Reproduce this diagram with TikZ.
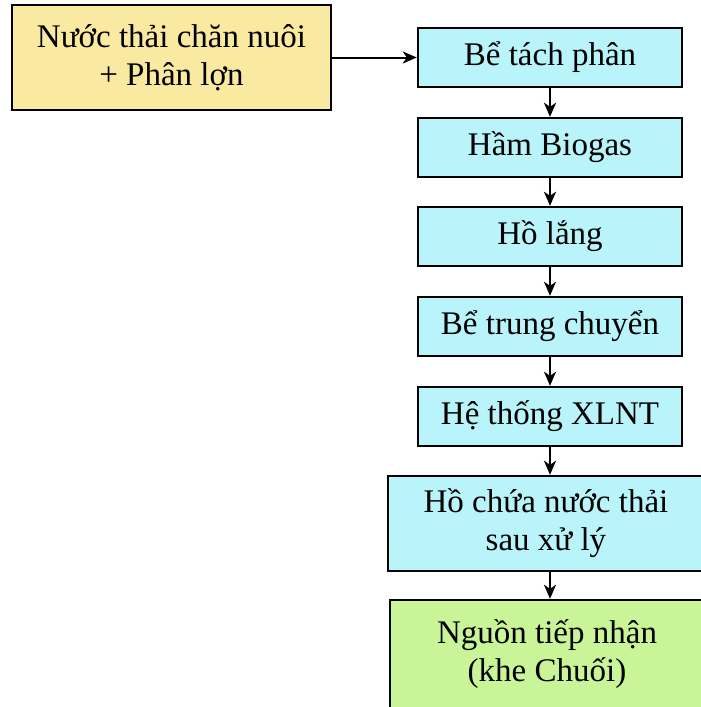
\documentclass[tikz,border=0pt]{standalone}
\usepackage{fontspec}
\setmainfont{Liberation Serif}
\usetikzlibrary{arrows.meta}
\definecolor{srcyellow}{RGB}{250,233,160}
\definecolor{stepcyan}{RGB}{184,244,250}
\definecolor{sinkgreen}{RGB}{201,245,152}
\tikzset{
  box/.style={draw=black, line width=2.4pt, align=center, inner sep=0pt,
    font=\fontsize{33}{38}\selectfont},
  stagebox/.style={box, fill=stepcyan, minimum width=264pt, minimum height=59pt},
  flow/.style={line width=2pt, -{Stealth[length=14pt,width=12pt,inset=4pt]}}
}
\begin{document}
\begin{tikzpicture}[x=1pt,y=-1pt]
\useasboundingbox (0,0) rectangle (701,707);
% source
\node[box, fill=srcyellow, minimum width=319pt, minimum height=105pt]
  (src) at (171.5,57.5) {Nước thải chăn nuôi\\+ Phân lợn};
% treatment chain
\node[stagebox] (s1) at (550,57.5) {Bể tách phân};
\node[stagebox] (s2) at (550,147.5) {Hầm Biogas};
\node[stagebox] (s3) at (550,236.5) {Hồ lắng};
\node[stagebox] (s4) at (550,326.5) {Bể trung chuyển};
\node[stagebox] (s5) at (550,416.5) {Hệ thống XLNT};
\node[box, fill=stepcyan, minimum width=316pt, minimum height=95pt]
  (s6) at (546,523.5) {Hồ chứa nước thải\\sau xử lý};
\node[box, fill=sinkgreen, minimum width=314pt, minimum height=108pt]
  (sink) at (547,654) {Nguồn tiếp nhận\\(khe Chuối)};
% connectors
\draw[flow] (src.east) -- (s1.west);
\draw[flow] (s1.south) -- (s2.north);
\draw[flow] (s2.south) -- (s3.north);
\draw[flow] (s3.south) -- (s4.north);
\draw[flow] (s4.south) -- (s5.north);
\draw[flow] (s5.south) -- (s5.south |- s6.north);
\draw[flow] (s6.south -| s5.south) -- (s5.south |- sink.north);
\end{tikzpicture}
\end{document}
